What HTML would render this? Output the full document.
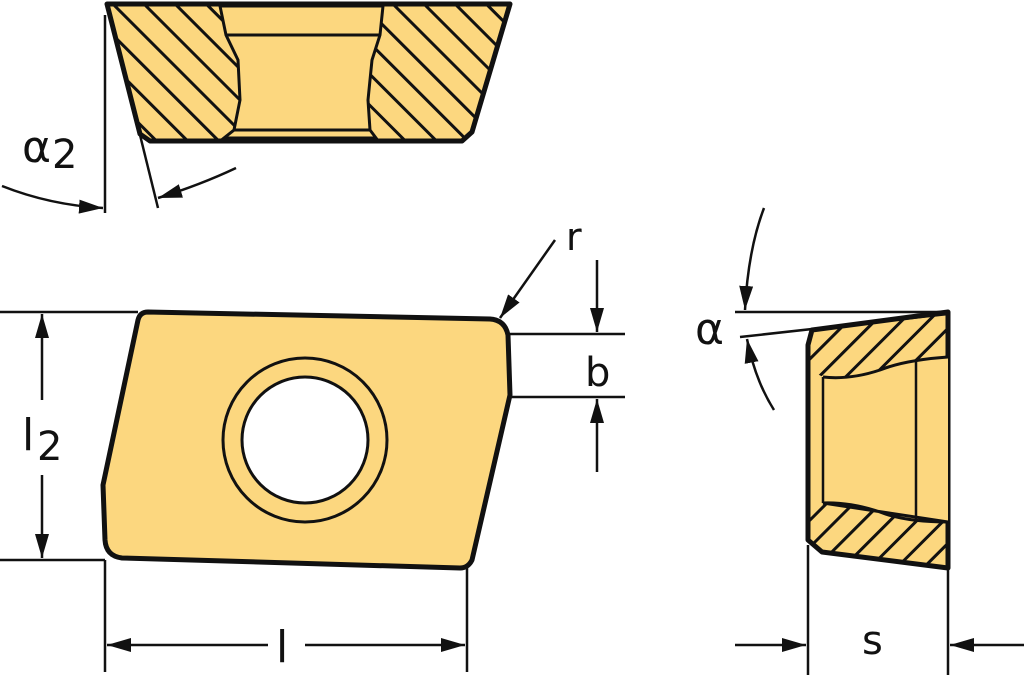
<!DOCTYPE html>
<html><head><meta charset="utf-8"><style>html,body{margin:0;padding:0;background:#fff}svg{display:block}text{font-family:"DejaVu Sans","Liberation Sans",sans-serif;fill:#111}</style></head><body>
<svg width="1024" height="675" viewBox="0 0 1024 675" xmlns="http://www.w3.org/2000/svg">
<defs>
<pattern id="h1" patternUnits="userSpaceOnUse" width="22" height="22" patternTransform="rotate(-45)">
<rect width="22" height="22" fill="#fcd77f"/><line x1="11" y1="0" x2="11" y2="22" stroke="#111" stroke-width="3"/></pattern>
<pattern id="h2" patternUnits="userSpaceOnUse" width="19" height="19" patternTransform="rotate(45)">
<rect width="19" height="19" fill="#fcd77f"/><line x1="9.5" y1="0" x2="9.5" y2="19" stroke="#111" stroke-width="3"/></pattern>
<marker id="arw" viewBox="0 0 10 10" refX="10" refY="5" markerWidth="24" markerHeight="14" markerUnits="userSpaceOnUse" orient="auto" preserveAspectRatio="none"><path d="M0,0 L10,5 L0,10z" fill="#111"/></marker>
</defs>
<g stroke="#111" fill="none">
<path d="M107,4 L510,4 L472,132 L462,141 L150,141 L140,134 Z" fill="url(#h1)" stroke-width="5" stroke-linejoin="round"/>
<path d="M220,6 L383,6 L380,35 L372,60 L368,100 L370,130 L376,138 L224,138 L234,130 L240,100 L238,60 L226,35 Z" fill="#fcd77f" stroke-width="3"/>
<line x1="226" y1="35" x2="380" y2="35" stroke-width="3"/>
<line x1="234" y1="130" x2="370" y2="130" stroke-width="3"/>
<line x1="105" y1="15" x2="105" y2="213" stroke-width="2.5"/>
<line x1="140" y1="135" x2="158" y2="208" stroke-width="2.5"/>
<path d="M2,186 Q50,205 103,208" stroke-width="2.5" marker-end="url(#arw)"/>
<path d="M236,168 Q200,185 158,198" stroke-width="2.5" marker-end="url(#arw)"/>
<path d="M148,312 L490,319 Q505,320 508,335 L510,395 L472,560 Q468,568 460,568 L122,558 Q106,556 105,540 L103,485 L138,320 Q140,312 148,312 Z" fill="#fcd77f" stroke-width="5" stroke-linejoin="round"/>
<circle cx="305" cy="440" r="82" stroke-width="3"/>
<circle cx="305" cy="440" r="63" fill="#fff" stroke-width="3"/>
<line x1="0" y1="312" x2="138" y2="312" stroke-width="2.5"/>
<line x1="0" y1="560" x2="105" y2="560" stroke-width="2.5"/>
<line x1="42" y1="400" x2="42" y2="314" stroke-width="2.5" marker-end="url(#arw)"/>
<line x1="42" y1="475" x2="42" y2="558" stroke-width="2.5" marker-end="url(#arw)"/>
<line x1="105" y1="560" x2="105" y2="672" stroke-width="2.5"/>
<line x1="467" y1="568" x2="467" y2="672" stroke-width="2.5"/>
<line x1="268" y1="645" x2="107" y2="645" stroke-width="2.5" marker-end="url(#arw)"/>
<line x1="305" y1="645" x2="465" y2="645" stroke-width="2.5" marker-end="url(#arw)"/>
<line x1="510" y1="334" x2="625" y2="334" stroke-width="2.5"/>
<line x1="510" y1="397" x2="625" y2="397" stroke-width="2.5"/>
<line x1="597" y1="260" x2="597" y2="332" stroke-width="2.5" marker-end="url(#arw)"/>
<line x1="597" y1="472" x2="597" y2="399" stroke-width="2.5" marker-end="url(#arw)"/>
<line x1="555" y1="240" x2="500" y2="318" stroke-width="2.5" marker-end="url(#arw)"/>
<path d="M812,330 L948,312 L948,568 L822,552 L808,540 L808,345 Z" fill="url(#h2)" stroke-width="5" stroke-linejoin="round"/>
<path d="M810,370 L823,377 Q850,380 880,370 Q905,360 948,357 L948,522 Q905,522 880,512 Q850,502 823,503 L810,508 Z" fill="#fcd77f" stroke="none"/>
<path d="M823,377 Q850,380 880,370 Q905,360 948,357 M948,522 Q905,522 880,512 Q850,502 823,503 Z" stroke-width="3"/>
<line x1="823" y1="377" x2="823" y2="503" stroke-width="2.5"/>
<line x1="916" y1="360" x2="916" y2="520" stroke-width="2.5"/>
<line x1="808" y1="345" x2="808" y2="540" stroke-width="5"/>
<line x1="735" y1="312" x2="948" y2="312" stroke-width="2.5"/>
<line x1="740" y1="337" x2="948" y2="314" stroke-width="2.5"/>
<path d="M764,208 Q748,250 745,310" stroke-width="2.5" marker-end="url(#arw)"/>
<path d="M774,410 Q755,380 747,339" stroke-width="2.5" marker-end="url(#arw)"/>
<line x1="808" y1="545" x2="808" y2="675" stroke-width="2.5"/>
<line x1="948" y1="568" x2="948" y2="675" stroke-width="2.5"/>
<line x1="735" y1="645" x2="806" y2="645" stroke-width="2.5" marker-end="url(#arw)"/>
<line x1="1024" y1="645" x2="950" y2="645" stroke-width="2.5" marker-end="url(#arw)"/>
</g>
<text x="22" y="162" font-size="44">α</text><text x="52" y="168" font-size="40">2</text>
<text x="22" y="450" font-size="44">l</text><text x="37" y="460" font-size="40">2</text>
<text x="276" y="662" font-size="44">l</text>
<text x="585" y="386" font-size="40">b</text>
<text x="566" y="250" font-size="38">r</text>
<text x="695" y="344" font-size="44">α</text>
<text x="862" y="654" font-size="40">s</text>
</svg>
</body></html>
